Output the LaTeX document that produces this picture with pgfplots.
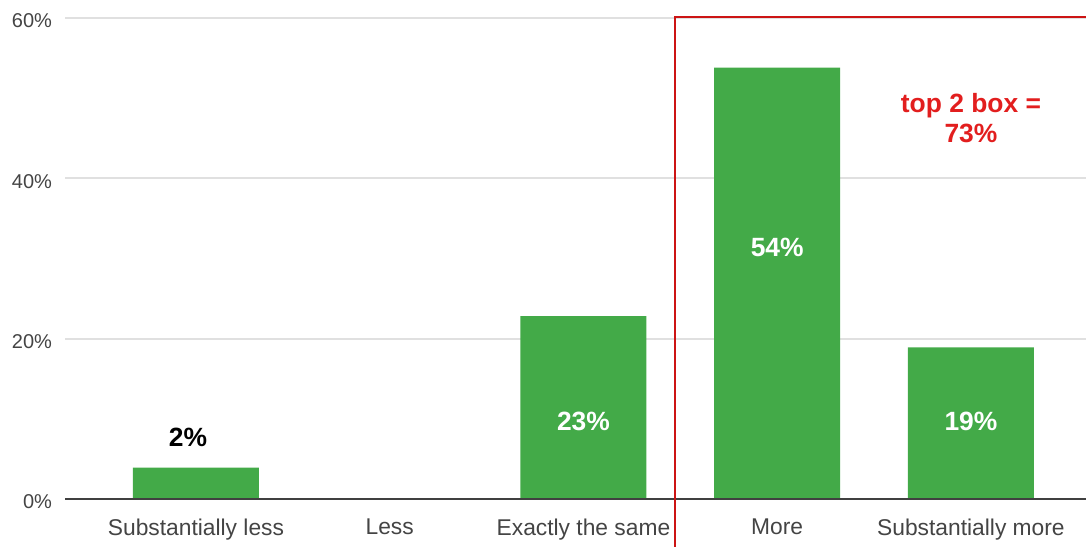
\documentclass[border=0pt]{standalone}
\usepackage{pgfplots}
\pgfplotsset{compat=1.18}
\usepackage{fontspec}
\setmainfont{Liberation Sans}
\definecolor{bargreen}{RGB}{67,170,72}
\definecolor{boxred}{RGB}{204,20,20}
\definecolor{txtred}{RGB}{226,30,30}
\definecolor{gridgray}{RGB}{224,224,224}
\definecolor{ticktxt}{RGB}{68,68,68}
\begin{document}
\begin{tikzpicture}
\path[use as bounding box] (-32.5pt,-23.5pt) rectangle (510.5pt,249.5pt);
\clip (-32.5pt,-23.5pt) rectangle (510.5pt,249.5pt);
\begin{axis}[
  at={(0pt,0pt)}, anchor=south west,
  scale only axis, width=510.5pt, height=240.5pt,
  xmin=-0.676, xmax=4.594, ymin=0, ymax=60,
  clip=false,
  axis line style={draw=none},
  major tick length=0pt,
  xtick={0,1,2,3,4},
  xticklabels={Substantially less,Less,Exactly the same,More,Substantially more},
  ytick={0,20,40,60},
  yticklabels={0\%,20\%,40\%,60\%},
  ymajorgrids, grid style={gridgray, line width=1pt},
  xticklabel style={font=\fontsize{11.4}{13}\selectfont, text=ticktxt, yshift=-6.5pt},
  yticklabel style={font=\fontsize{10}{12}\selectfont, text=ticktxt, xshift=-3pt, yshift=-1.5pt},
  /pgf/number format/assume math mode=true,
]
\addplot[ybar, bar width=63pt, fill=bargreen, draw=none]
  coordinates {(0,3.9) (1,0) (2,22.8) (3,53.8) (4,18.9)};
\draw[color=black!75, line width=0.75pt] (axis cs:-0.676,0) -- (axis cs:4.594,0);
\addplot[only marks, mark=none, point meta=explicit symbolic,
  nodes near coords, nodes near coords align={center},
  every node near coord/.style={font=\fontsize{13.2}{15}\selectfont\bfseries, text=black, anchor=center, xshift=-4pt}]
  coordinates {(0,7.7) [2\%]};
\addplot[only marks, mark=none, point meta=explicit symbolic,
  nodes near coords, nodes near coords align={center},
  every node near coord/.style={font=\fontsize{13.2}{15}\selectfont\bfseries, text=white, anchor=center}]
  coordinates {(2,9.7) [23\%] (3,31.4) [54\%] (4,9.7) [19\%]};
\draw[boxred, line width=0.75pt] (axis cs:2.472,-10) -- (axis cs:2.472,60.1) -- (axis cs:5.5,60.1);
\node[text=txtred, font=\fontsize{13.2}{15}\selectfont\bfseries, align=center, anchor=center]
  at (axis cs:4,47.5) {top 2 box =\\73\%};
\end{axis}
\end{tikzpicture}
\end{document}
